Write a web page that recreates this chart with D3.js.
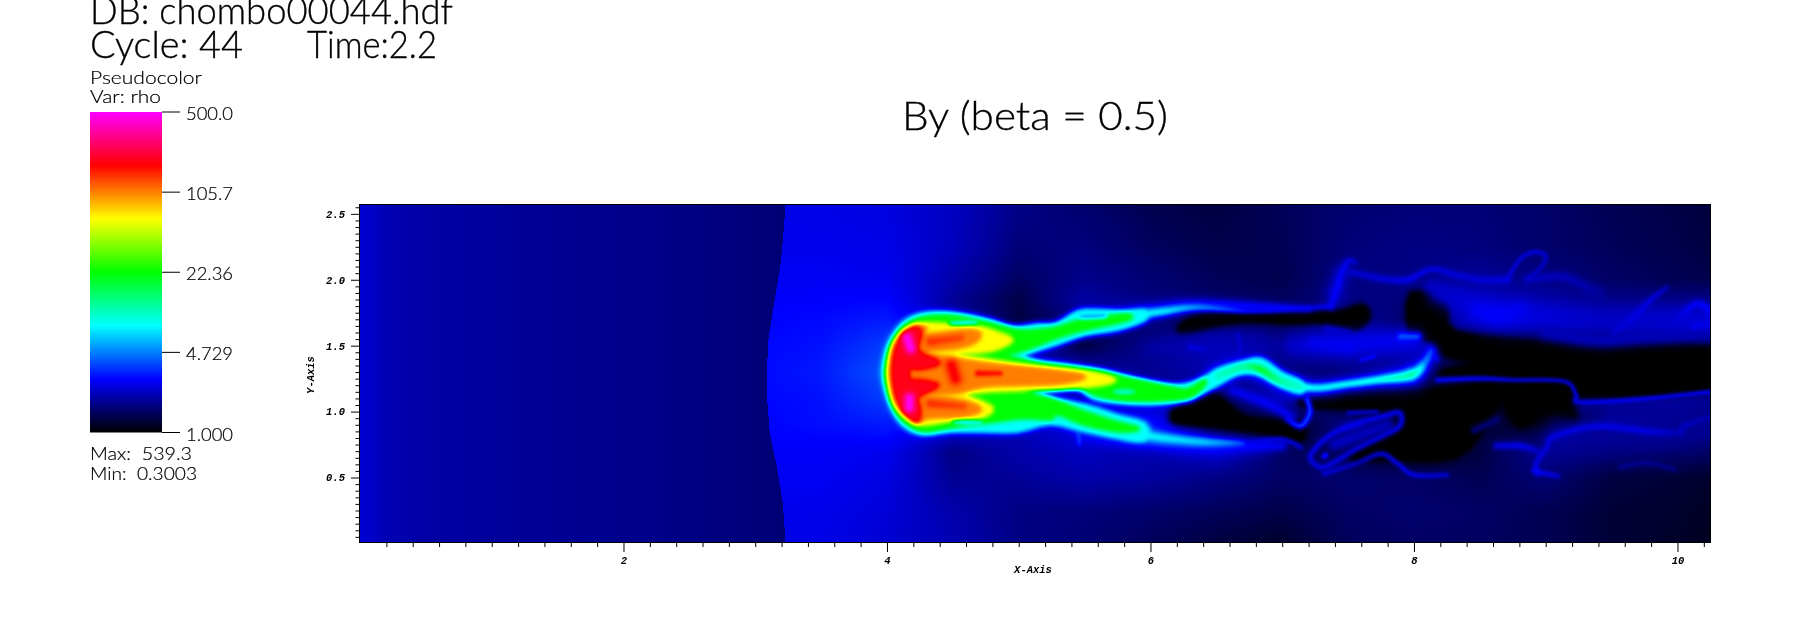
<!DOCTYPE html>
<html><head><meta charset="utf-8">
<script src="https://cdn.jsdelivr.net/npm/d3@7"></script>
<style>
html,body{margin:0;padding:0;background:#fff;overflow:hidden}
#wrap{position:relative;width:1800px;height:639px}
canvas,svg{position:absolute;left:0;top:0}
text{fill:#000}
.ui{font-family:Lato,"Noto Sans",sans-serif;font-weight:300;stroke:#000;stroke-width:.35px}
.uis{font-family:Lato,"Noto Sans",sans-serif;font-weight:300;stroke:#000;stroke-width:.2px}
.ax{font-family:"Liberation Mono",monospace;font-weight:700;font-style:italic;font-size:10.5px}
</style></head><body><div id="wrap"></div>
<script>
// ---------- texts and ticks ----------
const dbLine = "DB: chombo00044.hdf";
const cycleLine = "Cycle: 44";
const timeLine = "Time:2.2";
const plotTitle = "By (beta = 0.5)";
const legendHead = ["Pseudocolor", "Var: rho"];
const legendTicks = [500.0, 105.7, 22.36, 4.729, 1.000];
const legendLabels = ["500.0", "105.7", "22.36", "4.729", "1.000"];
const statLines = ["Max:  539.3", "Min:  0.3003"];
const xMajor = [2, 4, 6, 8, 10];
const yMajor = [0.5, 1.0, 1.5, 2.0, 2.5];
const xDomain = [0, 10.247];
const yDomain = [0.011, 2.567];
const paletteStops = [0, 1/6, 2/6, 3/6, 4/6, 5/6, 1];
const paletteColors = ["#000000", "#0000ff", "#00ffff", "#00ff00", "#ffff00", "#ff0000", "#ff00ff"];

// ---------- rho field ----------
const preX = [0, 0.05, 0.2, 0.5, 1, 1.5, 2, 2.5, 3, 3.3];
const preRho = [2.39, 2.3, 2.08, 1.95, 1.88, 1.82, 1.77, 1.71, 1.64, 1.6];
const shockY = [2.57, 2.3, 2.1, 1.8, 1.55, 1.34, 1.1, 0.84, 0.6, 0.3, 0.01];
const shockX = [3.23, 3.21, 3.19, 3.14, 3.10, 3.09, 3.09, 3.11, 3.16, 3.21, 3.23];
const gridX = [3, 3.5, 4, 4.5, 5, 5.5, 6, 6.5, 7, 7.5, 8, 8.5, 9, 9.5, 10, 10.25];
const gridY = [2.57, 2.25, 2.0, 1.85, 1.7, 1.5, 1.3, 1.1, 0.9, 0.7, 0.5, 0.25, 0.01];
const gridRho = [
 [2.60,2.55,2.47,2.20,1.73,1.56,1.38,1.30,1.44,1.58,1.62,1.62,1.53,1.41,1.33,1.28],
 [2.63,2.63,2.56,2.16,1.63,1.66,1.47,1.36,1.41,1.63,1.70,1.66,1.53,1.44,1.36,1.30],
 [2.70,2.70,2.65,2.00,1.47,1.77,1.60,1.44,1.38,1.66,1.70,1.85,1.70,1.50,1.41,1.36],
 [2.76,2.80,2.85,1.84,1.33,1.95,1.66,1.53,1.47,1.70,1.66,2.10,1.90,1.75,1.70,1.70],
 [2.82,2.90,3.10,2.00,1.30,1.70,1.50,1.50,1.40,1.90,1.50,2.30,2.15,2.10,2.20,2.20],
 [2.85,3.00,3.60,3.00,2.00,1.30,1.80,2.10,1.90,2.30,2.30,1.00,1.05,1.15,1.30,1.30],
 [2.90,3.10,3.90,3.00,2.50,2.00,1.80,2.00,1.60,1.60,1.50,1.00,1.00,1.00,1.00,1.00],
 [2.85,3.00,3.60,3.00,2.50,2.00,2.00,1.30,2.20,1.00,1.00,1.10,1.00,1.80,1.90,1.80],
 [2.82,2.95,3.10,2.40,2.10,2.60,3.00,1.30,1.00,1.80,1.00,1.30,1.10,1.90,1.80,1.70],
 [2.75,2.75,2.65,1.70,2.00,2.20,2.00,2.30,1.50,1.30,1.00,1.30,1.80,1.60,1.55,1.50],
 [2.70,2.70,2.50,1.80,1.85,2.00,1.90,1.70,1.50,1.55,1.50,1.40,1.60,1.30,1.25,1.20],
 [2.65,2.60,2.40,2.00,1.70,1.65,1.55,1.45,1.35,1.50,1.55,1.50,1.40,1.25,1.20,1.15],
 [2.60,2.55,2.35,2.05,1.70,1.60,1.45,1.30,1.20,1.45,1.50,1.48,1.40,1.25,1.18,1.13]
];
const voidBand = [[7.98,1.89],[8.23,1.82],[8.31,1.60],[9.01,1.51],[9.42,1.46],[10.28,1.48],[10.28,1.17],[9.27,1.13],[9.14,1.25],[8.20,1.28],[8.53,1.37],[8.25,1.43],[8.15,1.54],[7.98,1.60]];
const voidBox = [[8.71,1.19],[9.14,1.21],[9.17,1.06],[9.22,0.96],[9.01,0.99],[8.81,0.89],[8.71,1.04]];
const voidMid = [[7.22,1.09],[8.10,1.15],[8.61,1.19],[8.56,0.94],[8.31,0.66],[7.82,0.65],[7.52,0.66],[7.85,0.86],[7.90,0.99],[7.82,1.03],[7.24,1.04]];
const voidLow = [[6.17,0.99],[6.26,1.06],[6.41,1.14],[6.51,1.11],[6.63,1.01],[6.76,0.94],[7.12,0.89],[7.14,0.79],[6.89,0.84],[6.51,0.89],[6.20,0.92]];
const voidUp = [[6.22,1.63],[6.36,1.72],[6.71,1.73],[7.14,1.73],[7.14,1.69],[6.74,1.69],[6.56,1.67],[6.30,1.62]];
const voidStrip = [[6.99,1.72],[7.42,1.75],[7.60,1.80],[7.65,1.72],[7.55,1.63],[7.37,1.68],[6.99,1.69]];
const isoCyan = [[3.98,1.30],[4.01,1.47],[4.07,1.59],[4.15,1.68],[4.27,1.73],[4.43,1.74],[4.61,1.72],[4.79,1.68],[4.96,1.63],[5.14,1.65],[5.29,1.66],[5.45,1.75],[5.60,1.76],[5.80,1.75],[5.95,1.76],[5.95,1.70],[5.75,1.63],[5.50,1.59],[5.29,1.52],[5.09,1.46],[5.01,1.42],[5.14,1.37],[5.37,1.34],[5.62,1.30],[5.80,1.25],[6.00,1.21],[6.15,1.19],[6.28,1.20],[6.41,1.25],[6.53,1.32],[6.71,1.37],[6.84,1.39],[6.99,1.29],[7.14,1.22],[7.14,1.15],[6.99,1.20],[6.81,1.29],[6.66,1.29],[6.51,1.21],[6.38,1.14],[6.26,1.09],[6.00,1.07],[5.75,1.08],[5.57,1.11],[5.44,1.19],[5.24,1.18],[5.04,1.18],[5.14,1.11],[5.50,1.04],[5.75,0.96],[5.95,0.90],[5.95,0.79],[5.75,0.81],[5.47,0.87],[5.24,0.92],[4.99,0.86],[4.74,0.86],[4.48,0.86],[4.28,0.84],[4.15,0.89],[4.07,0.99],[4.01,1.14]];
const isoGreen = [[4.00,1.30],[4.03,1.47],[4.09,1.59],[4.18,1.67],[4.29,1.71],[4.46,1.72],[4.61,1.70],[4.79,1.66],[4.99,1.61],[5.14,1.61],[5.29,1.63],[5.45,1.68],[5.65,1.71],[5.82,1.73],[5.82,1.70],[5.50,1.63],[5.29,1.57],[5.09,1.49],[4.99,1.46],[4.91,1.42],[5.14,1.36],[5.37,1.33],[5.65,1.29],[5.87,1.24],[6.15,1.18],[6.28,1.16],[6.41,1.23],[6.36,1.16],[6.26,1.11],[6.00,1.09],[5.75,1.10],[5.57,1.14],[5.47,1.20],[5.32,1.23],[5.14,1.19],[4.99,1.16],[5.24,1.09],[5.50,0.99],[5.75,0.91],[5.90,0.87],[5.75,0.86],[5.50,0.91],[5.29,0.99],[5.24,0.95],[5.04,0.96],[4.79,0.93],[4.48,0.89],[4.28,0.86],[4.15,0.92],[4.07,1.01],[4.02,1.15]];
const isoYellow = [[4.01,1.30],[4.04,1.47],[4.10,1.58],[4.20,1.65],[4.33,1.66],[4.48,1.65],[4.71,1.63],[4.84,1.59],[4.94,1.54],[4.79,1.47],[4.58,1.45],[4.48,1.43],[4.74,1.39],[4.99,1.35],[5.29,1.32],[5.55,1.29],[5.72,1.24],[5.55,1.20],[5.24,1.18],[4.94,1.17],[4.74,1.16],[4.58,1.13],[4.79,1.03],[4.70,0.96],[4.48,0.94],[4.28,0.91],[4.18,0.95],[4.08,1.03],[4.03,1.15]];
const isoOrange = [[4.03,1.30],[4.05,1.47],[4.12,1.58],[4.22,1.64],[4.29,1.63],[4.27,1.58],[4.43,1.59],[4.61,1.61],[4.70,1.59],[4.66,1.53],[4.53,1.49],[4.33,1.47],[4.27,1.44],[4.48,1.40],[4.74,1.36],[5.04,1.33],[5.37,1.29],[5.49,1.26],[5.29,1.22],[4.99,1.21],[4.74,1.20],[4.53,1.15],[4.33,1.14],[4.27,1.11],[4.43,1.10],[4.63,1.06],[4.70,1.01],[4.56,0.97],[4.31,0.96],[4.23,0.92],[4.15,0.97],[4.08,1.06],[4.05,1.16]];
const isoRed = [[4.05,1.30],[4.07,1.46],[4.12,1.56],[4.20,1.63],[4.25,1.61],[4.24,1.54],[4.22,1.48],[4.27,1.43],[4.39,1.37],[4.26,1.33],[4.17,1.33],[4.17,1.24],[4.26,1.23],[4.38,1.20],[4.27,1.14],[4.22,1.10],[4.24,1.03],[4.24,0.95],[4.20,0.94],[4.12,1.03],[4.07,1.14]];
const isoOutlines = [isoCyan, isoGreen, isoYellow, isoOrange, isoRed];
const isoRho = [8, 22, 63, 106, 195];
const pockets = [
 [[[5.72,1.15],[5.80,1.165],[5.88,1.15],[5.80,1.135]], 10],
 [[[4.48,1.672],[4.63,1.68],[4.68,1.67],[4.52,1.662]], 6],
 [[[4.50,0.922],[4.60,0.912],[4.72,0.922],[4.60,0.93]], 6],
 [[[5.47,1.72],[5.65,1.73],[5.65,1.715],[5.50,1.708]], 5]
];
// filaments: [x, y, rho, half width in y units]
const filaments = [
 // broad clouds
 [[8.20,1.90,2.2,0.09],[8.60,1.75,2.6,0.12],[9.00,1.72,2.4,0.12],[9.50,1.68,2.2,0.11],[10.25,1.68,2.4,0.11]],
 [[7.40,1.90,2.2,0.08],[7.45,2.05,2.2,0.07]],
 [[7.10,1.50,2.3,0.08],[7.60,1.52,2.6,0.09],[8.00,1.55,2.6,0.07]],
 [[6.00,1.47,1.9,0.07],[6.50,1.50,2.1,0.10],[6.80,1.50,2.0,0.09]],
 [[7.40,0.75,2.2,0.05],[7.80,0.90,2.1,0.05]],
 [[9.10,0.80,1.9,0.12],[9.60,0.80,1.8,0.12],[10.20,0.85,1.8,0.10]],
 [[9.30,1.02,1.7,0.04],[10.25,1.05,1.7,0.04]],
 // head
 [[3.87,1.30,3.5,0.11],[3.90,1.30,3.5,0.11]],
 [[4.155,1.56,490,0.042],[4.18,1.48,490,0.042]],
 [[4.17,1.10,490,0.042],[4.17,1.03,490,0.042]],
 [[4.49,1.35,185,0.05],[4.52,1.25,185,0.05]],
 [[4.69,1.29,185,0.024],[4.86,1.29,175,0.02]],
 [[4.33,1.53,150,0.036],[4.56,1.56,135,0.03]],
 [[4.33,1.06,150,0.036],[4.58,1.04,135,0.03]],
 // upper plume
 [[5.50,1.70,3,0.06],[6.00,1.76,3,0.07],[6.40,1.81,3,0.05],[7.20,1.78,2.6,0.03]],
 [[5.80,1.72,8,0.04],[6.10,1.76,7.5,0.034],[6.36,1.79,5,0.026],[6.76,1.76,3,0.016],[7.14,1.78,2.8,0.016],[7.24,1.79,2.6,0.022],[7.37,1.80,2.6,0.022]],
 // lower plume
 [[5.50,0.85,3,0.07],[6.00,0.78,3,0.08],[6.50,0.74,3,0.07],[7.00,0.74,2.6,0.04]],
 [[5.85,0.84,8,0.05],[6.10,0.80,7.5,0.045],[6.40,0.77,6.5,0.036],[6.70,0.76,3.6,0.022]],
 // turbulent wake
 [[7.37,1.80,2.7,0.03],[7.42,1.95,2.8,0.03],[7.45,2.05,2.7,0.026],[7.50,2.14,2.6,0.026],[7.56,2.13,2.3,0.02]],
 [[7.52,2.06,2.3,0.03],[7.75,2.01,2.4,0.03],[7.95,2.00,2.6,0.03],[8.13,2.08,2.5,0.024],[8.31,2.04,2.4,0.03],[8.51,2.00,2.4,0.032],[8.71,2.00,2.5,0.032]],
 [[8.71,2.01,2.5,0.016],[8.81,2.16,2.5,0.016],[8.91,2.21,2.5,0.018],[9.00,2.18,2.4,0.018],[8.96,2.09,2.3,0.016],[8.86,2.01,2.3,0.016]],
 [[8.86,2.00,2.2,0.03],[9.14,2.02,2.1,0.04],[9.39,1.90,1.9,0.05]],
 [[8.48,1.77,2.7,0.06],[8.63,1.73,2.8,0.07],[8.81,1.77,2.6,0.07]],
 [[8.13,1.95,2.2,0.05],[8.41,1.85,2.3,0.06]],
 [[9.52,1.60,2.3,0.03],[9.67,1.72,2.5,0.03],[9.80,1.85,2.5,0.024],[9.92,1.94,2.1,0.018]],
 [[10.03,1.73,2.5,0.03],[10.15,1.82,2.8,0.03],[10.25,1.76,2.8,0.03]],
 [[10.13,1.65,2.6,0.03],[10.25,1.67,2.5,0.03]],
 [[9.01,1.60,2.1,0.06],[9.39,1.54,2.1,0.06],[9.77,1.57,2.1,0.06],[10.25,1.60,2.1,0.06]],
 [[6.51,1.27,3,0.09],[6.71,1.34,3,0.08],[6.99,1.23,3,0.08],[7.24,1.18,3,0.07],[7.50,1.21,3,0.07],[7.72,1.24,3,0.08],[7.98,1.28,3.2,0.10],[8.08,1.37,3,0.07],[8.13,1.46,2.8,0.05]],
 [[6.51,1.27,10,0.03],[6.71,1.34,12,0.03],[6.84,1.32,20,0.03],[6.99,1.23,12,0.032],[7.24,1.18,8,0.032],[7.50,1.21,8,0.03],[7.72,1.24,9,0.032],[7.98,1.28,12,0.045],[8.08,1.37,5,0.03],[8.13,1.46,3.5,0.02]],
 [[8.13,1.46,3,0.02],[8.18,1.39,2.7,0.015]],
 [[7.90,1.57,4,0.028],[8.03,1.57,3.8,0.028]],
 [[7.24,1.52,2.6,0.05],[7.50,1.49,2.7,0.05]],
 [[7.34,1.62,2.4,0.03],[7.50,1.60,2.2,0.03]],
 [[7.60,1.39,3,0.014],[7.70,1.42,3,0.014]],
 [[6.66,1.59,2.4,0.014],[6.68,1.47,2.4,0.014],[6.56,1.37,2.4,0.014]],
 [[6.30,1.49,2.5,0.024],[6.42,1.47,2.3,0.024]],
 [[7.19,1.09,4,0.022],[7.21,0.99,4,0.022],[7.14,0.89,4,0.024],[7.04,0.94,3,0.02]],
 [[6.63,1.16,2.6,0.045],[6.89,1.06,2.7,0.045],[7.07,0.96,2.6,0.04]],
 [[6.70,0.76,2.6,0.02],[6.99,0.79,2.6,0.02],[7.14,0.73,2.4,0.018]],
 [[7.22,0.68,2.6,0.024],[7.32,0.79,2.6,0.024],[7.50,0.89,2.6,0.024],[7.75,0.96,2.6,0.024],[7.89,0.99,2.6,0.024],[7.89,0.89,2.6,0.024],[7.75,0.81,2.5,0.024],[7.55,0.71,2.5,0.024],[7.32,0.58,2.5,0.024],[7.22,0.63,2.5,0.024],[7.22,0.68,2.6,0.024]],
 [[7.32,0.66,3.5,0.02],[7.33,0.67,3.5,0.02]],
 [[7.50,0.99,2.5,0.014],[7.72,1.00,2.5,0.014]],
 [[7.47,0.87,2.6,0.017],[7.60,0.90,2.4,0.014]],
 [[7.32,0.53,2.4,0.022],[7.57,0.61,2.2,0.02],[7.75,0.68,2.5,0.02],[7.87,0.61,2.6,0.02],[8.00,0.52,2.6,0.02],[8.25,0.52,2.3,0.02]],
 [[8.63,0.74,2.4,0.03],[8.81,0.74,2.6,0.03],[8.94,0.70,2.2,0.024]],
 [[8.46,0.86,1.6,0.03],[8.63,0.94,1.6,0.03]],
 [[8.94,0.53,2.6,0.024],[8.93,0.61,2.5,0.024],[9.01,0.73,2.4,0.024],[9.06,0.81,2.5,0.026],[9.39,0.89,2.5,0.03],[9.77,0.85,2.5,0.03],[10.03,0.84,2.0,0.024]],
 [[8.91,0.55,2.8,0.02],[9.09,0.51,2.4,0.02]],
 [[10.03,0.84,2.1,0.024],[10.05,0.89,2.2,0.024],[10.25,0.96,2.0,0.024]],
 [[9.57,0.58,1.8,0.02],[9.77,0.61,1.8,0.02],[9.98,0.56,1.7,0.02]],
 [[8.18,1.24,2.8,0.022],[8.51,1.25,2.8,0.02],[8.76,1.24,2.6,0.016],[9.14,1.23,2.5,0.016],[9.23,1.13,2.7,0.016],[9.27,1.07,2.7,0.018],[9.77,1.10,2.7,0.018],[10.25,1.15,2.8,0.018]],
 [[5.45,0.86,4,0.018],[5.46,0.75,3.4,0.016]],
 [[5.22,0.96,8,0.014],[5.29,0.91,7,0.014]],
 [[4.86,0.87,5,0.016],[5.0,0.85,4,0.016]]
];

// ---------- layout ----------
const plot = {left: 360, right: 1710, top: 205, bottom: 542};
const x = d3.scaleLinear().domain(xDomain).range([plot.left, plot.right]);
const y = d3.scaleLinear().domain(yDomain).range([plot.bottom, plot.top]);
const toT = d3.scaleLog().domain([1, 500]).range([0, 1]).clamp(true);
const tColor = d3.scaleLinear().domain(paletteStops).range(paletteColors).clamp(true);

// ---------- field ----------
const W = plot.right - plot.left, H = plot.bottom - plot.top;
let field = new Float32Array(W * H);
const preAt = d3.scaleLinear().domain(preX).range(preRho).clamp(true);
const shockAt = d3.scaleLinear().domain(shockY.slice().reverse()).range(shockX.slice().reverse()).clamp(true);
const colIdx = d3.scaleLinear().domain(gridX).range(gridX.map((_, i) => i)).clamp(true);
const rowIdx = d3.scaleLinear().domain(gridY.slice().reverse()).range(gridY.map((_, i) => gridY.length - 1 - i)).clamp(true);
for (let j = 0; j < H; j++) {
  const dy = y.invert(plot.top + j + 0.5);
  const r = rowIdx(dy), r0 = Math.min(Math.floor(r), gridY.length - 2), rf = r - r0;
  const sx = x(shockAt(dy));
  for (let i = 0; i < W; i++) {
    const px = plot.left + i + 0.5;
    const dx = x.invert(px);
    const c = colIdx(dx), c0 = Math.min(Math.floor(c), gridX.length - 2), cf = c - c0;
    const post = (gridRho[r0][c0] * (1 - cf) + gridRho[r0][c0 + 1] * cf) * (1 - rf) +
                 (gridRho[r0 + 1][c0] * (1 - cf) + gridRho[r0 + 1][c0 + 1] * cf) * rf;
    field[j * W + i] = toT(px < sx ? preAt(dx) : post);
  }
}
function spline(pts, closed, n) {
  const out = [], m = pts.length, dim = pts[0].length;
  const at = i => closed ? pts[(i + m) % m] : pts[Math.max(0, Math.min(m - 1, i))];
  const last = closed ? m : m - 1;
  for (let i = 0; i < last; i++) {
    const p0 = at(i - 1), p1 = at(i), p2 = at(i + 1), p3 = at(i + 2);
    for (let s = 0; s < n; s++) {
      const u = s / n, u2 = u * u, u3 = u2 * u, q = [];
      for (let d = 0; d < dim; d++) {
        if (d < 2) q.push(0.5 * (2 * p1[d] + (p2[d] - p0[d]) * u + (2 * p0[d] - 5 * p1[d] + 4 * p2[d] - p3[d]) * u2 + (3 * p1[d] - p0[d] - 3 * p2[d] + p3[d]) * u3));
        else q.push(p1[d] + (p2[d] - p1[d]) * u);
      }
      out.push(q);
    }
  }
  if (!closed) out.push(pts[m - 1].slice());
  return out;
}
const segDist = (px, py, ax, ay, bx, by) => {
  const vx = bx - ax, vy = by - ay, l = vx * vx + vy * vy;
  let u = l ? ((px - ax) * vx + (py - ay) * vy) / l : 0;
  u = u < 0 ? 0 : u > 1 ? 1 : u;
  const qx = ax + u * vx - px, qy = ay + u * vy - py;
  return [qx * qx + qy * qy, u];
};
function paintOutline(outline, rho, soft, isVoid) {
  const pts = spline(outline, true, 3).map(p => [x(p[0]) - plot.left, y(p[1]) - plot.top]);
  const tc = toT(rho), ext = soft * 2.6;
  const i0 = Math.max(0, Math.floor(d3.min(pts, p => p[0]) - ext)), i1 = Math.min(W - 1, Math.ceil(d3.max(pts, p => p[0]) + ext));
  const j0 = Math.max(0, Math.floor(d3.min(pts, p => p[1]) - ext)), j1 = Math.min(H - 1, Math.ceil(d3.max(pts, p => p[1]) + ext));
  for (let j = j0; j <= j1; j++) for (let i = i0; i <= i1; i++) {
    const px = i + 0.5, py = j + 0.5, k = j * W + i, cur = field[k];
    if (!isVoid && cur >= tc) continue;
    let f = 1;
    if (!d3.polygonContains(pts, [px, py])) {
      let d = 1e9;
      for (let m = 0; m < pts.length; m++) {
        const a = pts[m], b = pts[(m + 1) % pts.length];
        const s = segDist(px, py, a[0], a[1], b[0], b[1])[0];
        if (s < d) d = s;
      }
      if (d > ext * ext) continue;
      f = Math.exp(-d / (soft * soft));
    }
    const v = cur + (tc - cur) * f;
    field[k] = isVoid ? Math.min(cur, v) : Math.max(cur, v);
  }
}
function paintFilament(raw) {
  const pts = spline(raw, false, 5);
  const snap = field.slice();
  const pxPerY = Math.abs(y(0) - y(1));
  for (let s = 0; s + 1 < pts.length; s++) {
    const a = pts[s], b = pts[s + 1];
    const ax = x(a[0]) - plot.left, ay = y(a[1]) - plot.top, bx = x(b[0]) - plot.left, by = y(b[1]) - plot.top;
    const ta = toT(a[2]), tb = toT(b[2]), wa = a[3] * pxPerY, wb = b[3] * pxPerY;
    const ext = Math.max(wa, wb) * 2.6;
    const i0 = Math.max(0, Math.floor(Math.min(ax, bx) - ext)), i1 = Math.min(W - 1, Math.ceil(Math.max(ax, bx) + ext));
    const j0 = Math.max(0, Math.floor(Math.min(ay, by) - ext)), j1 = Math.min(H - 1, Math.ceil(Math.max(ay, by) + ext));
    for (let j = j0; j <= j1; j++) for (let i = i0; i <= i1; i++) {
      const [d, u] = segDist(i + 0.5, j + 0.5, ax, ay, bx, by);
      const w = wa + (wb - wa) * u, tc = ta + (tb - ta) * u, k = j * W + i;
      const base = snap[k];
      if (tc <= base) continue;
      const v = base + (tc - base) * Math.exp(-d / (w * w));
      if (v > field[k]) field[k] = v;
    }
  }
}
function smooth(src, passes, x0) {
  let cur = src;
  for (let p = 0; p < passes; p++) {
    const out = cur.slice();
    for (let j = 0; j < H; j++) for (let i = x0; i < W; i++) {
      let sum = 0, n = 0;
      for (let b = -1; b <= 1; b++) for (let a = -1; a <= 1; a++) {
        const ii = i + a, jj = j + b;
        if (ii < x0 || jj < 0 || ii >= W || jj >= H) continue;
        sum += cur[jj * W + ii]; n++;
      }
      out[j * W + i] = sum / n;
    }
    cur = out;
  }
  return cur;
}
[voidBand, voidBox, voidMid, voidLow, voidUp, voidStrip].forEach(v => paintOutline(v, 1, 4, true));
isoOutlines.forEach((o, i) => paintOutline(o, isoRho[i], i === 0 ? 4 : 3, false));
pockets.forEach(p => paintOutline(p[0], p[1], 1, true));
const x0Blur = Math.round(x(3.35) - plot.left);
field = smooth(field, 2, x0Blur);
filaments.forEach(paintFilament);
const finalField = smooth(field, 2, x0Blur);

// ---------- draw ----------
const wrap = d3.select("#wrap");
const canvas = wrap.append("canvas").attr("width", W).attr("height", H)
  .style("left", plot.left + "px").style("top", plot.top + "px");
const ctx = canvas.node().getContext("2d");
const img = ctx.createImageData(W, H);
const lut = d3.range(1024).map(i => d3.rgb(tColor(i / 1023)));
for (let k = 0; k < W * H; k++) {
  const c = lut[Math.round(finalField[k] * 1023)];
  img.data[k * 4] = c.r; img.data[k * 4 + 1] = c.g; img.data[k * 4 + 2] = c.b; img.data[k * 4 + 3] = 255;
}
ctx.putImageData(img, 0, 0);

const svg = wrap.append("svg").attr("width", 1800).attr("height", 639);
const fit = (sel, len) => sel.attr("textLength", len).attr("lengthAdjust", "spacingAndGlyphs");

svg.append("text").attr("class", "ui").attr("x", 90).attr("y", 24).attr("font-size", 38).text(dbLine).call(fit, 363);
svg.append("text").attr("class", "ui").attr("x", 90).attr("y", 58).attr("font-size", 38).text(cycleLine).call(fit, 153);
svg.append("text").attr("class", "ui").attr("x", 307).attr("y", 58).attr("font-size", 38).text(timeLine).call(fit, 130);
svg.append("text").attr("class", "ui").attr("x", 902).attr("y", 130).attr("font-size", 39).text(plotTitle).call(fit, 266);
svg.append("text").attr("class", "uis").attr("x", 90).attr("y", 84).attr("font-size", 18).text(legendHead[0]).call(fit, 112);
svg.append("text").attr("class", "uis").attr("x", 90).attr("y", 103).attr("font-size", 18).text(legendHead[1]).call(fit, 71);

const legend = {x: 90, w: 72, top: 112, bottom: 432.5};
const legendY = d3.scaleLog().domain([1, 500]).range([legend.bottom, legend.top]);
const grad = svg.append("defs").append("linearGradient").attr("id", "bar")
  .attr("x1", 0).attr("x2", 0).attr("y1", 1).attr("y2", 0);
paletteStops.forEach((s, i) => grad.append("stop").attr("offset", s).attr("stop-color", paletteColors[i]));
svg.append("rect").attr("x", legend.x).attr("y", legend.top).attr("width", legend.w)
  .attr("height", legend.bottom - legend.top).attr("fill", "url(#bar)");
const lt = svg.append("g").selectAll("g").data(legendTicks).join("g")
  .attr("transform", d => `translate(0,${legendY(d)})`);
lt.append("line").attr("x1", legend.x + legend.w).attr("x2", 180).attr("stroke", "#000").attr("stroke-width", 1);
lt.append("text").attr("class", "uis").attr("x", 186).attr("y", 8).attr("font-size", 18)
  .text((d, i) => legendLabels[i]).call(fit, 47);
svg.append("text").attr("class", "uis").attr("x", 90).attr("y", 460).attr("font-size", 18)
  .style("white-space", "pre").text(statLines[0]).call(fit, 102);
svg.append("text").attr("class", "uis").attr("x", 90).attr("y", 479.5).attr("font-size", 18)
  .style("white-space", "pre").text(statLines[1]).call(fit, 107);

const minorX = d3.range(0.2, xDomain[1], 0.2).filter(v => Math.abs(v / 2 - Math.round(v / 2)) > 1e-6);
const minorY = d3.range(0.05, yDomain[1], 0.05).filter(v => Math.abs(v * 2 - Math.round(v * 2)) > 1e-6);
const styleAxis = g => { g.select(".domain").remove(); g.selectAll("line").attr("stroke", "#000"); };
svg.append("g").attr("transform", `translate(0,${plot.bottom})`)
  .call(d3.axisBottom(x).tickValues(minorX).tickSize(5).tickFormat("")).call(styleAxis);
svg.append("g").attr("transform", `translate(0,${plot.bottom})`)
  .call(d3.axisBottom(x).tickValues(xMajor).tickSize(10).tickPadding(5).tickFormat(d3.format("d"))).call(styleAxis)
  .selectAll("text").attr("class", "ax").attr("fill", "#111");
svg.append("g").attr("transform", `translate(${plot.left},0)`)
  .call(d3.axisLeft(y).tickValues(minorY).tickSize(4.5).tickFormat("")).call(styleAxis);
svg.append("g").attr("transform", `translate(${plot.left},0)`)
  .call(d3.axisLeft(y).tickValues(yMajor).tickSize(9).tickPadding(6).tickFormat(d3.format(".1f"))).call(styleAxis)
  .selectAll("text").attr("class", "ax").attr("fill", "#111");
svg.append("rect").attr("x", plot.left - 0.5).attr("y", plot.top - 0.5).attr("width", W + 1).attr("height", H + 1)
  .attr("fill", "none").attr("stroke", "#000").attr("stroke-width", 1);
svg.append("text").attr("class", "ax").attr("x", 1033).attr("y", 573).attr("text-anchor", "middle").text("X-Axis");
svg.append("text").attr("class", "ax").attr("transform", "translate(314,375) rotate(-90)").attr("text-anchor", "middle").text("Y-Axis");
</script></body></html>
